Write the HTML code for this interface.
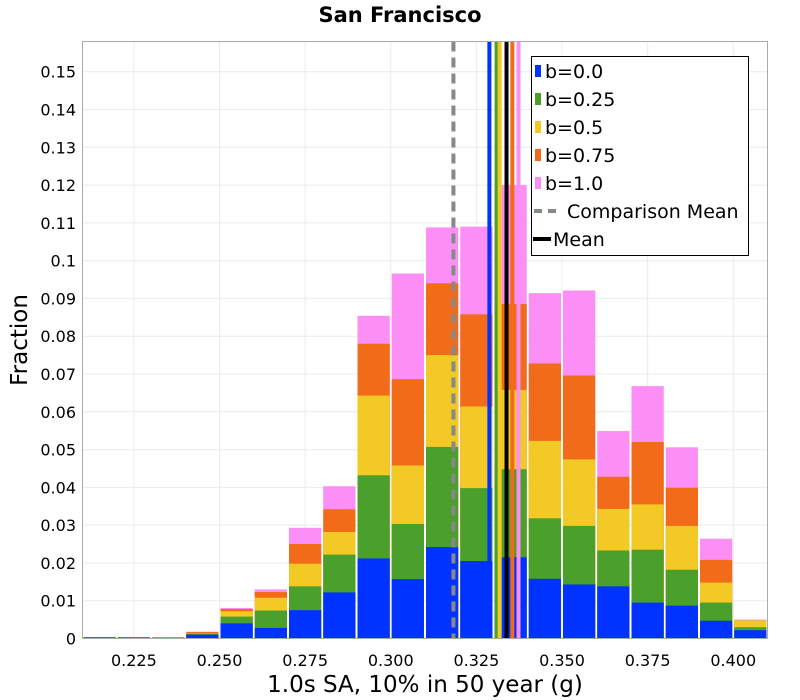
<!DOCTYPE html>
<html><head><meta charset="utf-8"><style>
body{margin:0;background:#fff;}
svg{display:block;font-family:"DejaVu Sans","Liberation Sans",sans-serif;}
</style></head><body>
<svg id="chart" width="800" height="700">
<text x="400" y="22" text-anchor="middle" font-size="21" font-weight="bold">San Francisco</text>
<g id="grid"></g>
<g id="bars"></g>
<g id="lines"></g>
<rect x="82.5" y="41.5" width="685" height="597" fill="none" stroke="#aaa"/>
<g id="yticks"></g>
<g id="xticks"></g>
<text x="425" y="692" text-anchor="middle" font-size="23">1.0s SA, 10% in 50 year (g)</text>
<text transform="translate(27,340) rotate(-90)" text-anchor="middle" font-size="23">Fraction</text>
<g id="legend">
<rect x="531.5" y="56.5" width="217" height="199" fill="#fff" stroke="#000"/>
</g>
</svg>
<script>
const binStarts=[0.21,0.22,0.23,0.24,0.25,0.26,0.27,0.28,0.29,0.30,0.31,0.32,0.33,0.34,0.35,0.36,0.37,0.38,0.39,0.40];
const seriesNames=["b=0.0","b=0.25","b=0.5","b=0.75","b=1.0"];
const seriesColors=["#0033ff","#4aa02a","#f2c925","#f26b18","#fb8ff5"];
// cumulative stacked tops per series
const cumB00=[0.0003,0.0001,0.0001,0.0010,0.0040,0.0028,0.0075,0.0122,0.0212,0.0157,0.0242,0.0205,0.0215,0.0158,0.0143,0.0138,0.0095,0.0087,0.0047,0.0022];
const cumB025=[0.0003,0.0004,0.0002,0.0012,0.0058,0.0074,0.0138,0.0222,0.0432,0.0303,0.0507,0.0398,0.0448,0.0318,0.0298,0.0233,0.0235,0.0182,0.0095,0.0030];
const cumB05=[0.0003,0.0004,0.0003,0.0013,0.0072,0.0108,0.0198,0.0282,0.0643,0.0458,0.0750,0.0614,0.0658,0.0523,0.0474,0.0343,0.0355,0.0298,0.0148,0.0048];
const cumB075=[0.0003,0.0004,0.0004,0.0017,0.0078,0.0123,0.0250,0.0342,0.0780,0.0686,0.0940,0.0858,0.0885,0.0728,0.0696,0.0428,0.0520,0.0399,0.0208,0.0048];
const cumB10=[0.0003,0.0004,0.0004,0.0018,0.0081,0.0130,0.0293,0.0403,0.0854,0.0966,0.1088,0.1090,0.1200,0.0914,0.0921,0.0549,0.0668,0.0506,0.0264,0.0050];
const meanValues=[0.3288,0.3309,0.3318,0.3355,0.3373];
const overallMean=0.3338;
const comparisonMean=0.3183;
const xTicks=[0.225,0.25,0.275,0.3,0.325,0.35,0.375,0.4];
const xTickLabels=["0.225","0.250","0.275","0.300","0.325","0.350","0.375","0.400"];
const yTicks=[0,0.01,0.02,0.03,0.04,0.05,0.06,0.07,0.08,0.09,0.1,0.11,0.12,0.13,0.14,0.15];
const yTickLabels=["0","0.01","0.02","0.03","0.04","0.05","0.06","0.07","0.08","0.09","0.1","0.11","0.12","0.13","0.14","0.15"];
const binWidth=0.01;

const X0=82.5,X1=767.5,Y0=638.5,Y1=41.5,xmin=0.21,xmax=0.41,ymax=0.158;
const sx=v=>X0+(v-xmin)/(xmax-xmin)*(X1-X0);
const sy=v=>Y0-v/ymax*(Y0-Y1);
const NS="http://www.w3.org/2000/svg";
function mk(tag,attrs,parent){const e=document.createElementNS(NS,tag);for(const k in attrs)e.setAttribute(k,attrs[k]);parent.appendChild(e);return e;}
const grid=document.getElementById('grid'),bars=document.getElementById('bars'),lines=document.getElementById('lines');
const yt=document.getElementById('yticks'),xt=document.getElementById('xticks'),lg=document.getElementById('legend');
yTicks.forEach((v,i)=>{
 const l=mk('line',{x1:X0,x2:X1,y1:sy(v),y2:sy(v),stroke:'#ececec'},grid);
 
 
 const t=mk('text',{x:76,y:sy(v)+6,'text-anchor':'end','font-size':16},yt);
 t.textContent=yTickLabels[i];
 
 
});
xTicks.forEach((v,i)=>{
 const l=mk('line',{x1:sx(v),x2:sx(v),y1:Y1,y2:Y0,stroke:'#ececec'},grid);
 
 
 const t=mk('text',{x:sx(v),y:666,'text-anchor':'middle','font-size':16},xt);
 t.textContent=xTickLabels[i];
 
 
});
const cums=[cumB00,cumB025,cumB05,cumB075,cumB10];
for(let s=cums.length-1;s>=0;s--){
 binStarts.forEach((b,i)=>{
  const v=cums[s][i];
  const r=mk('rect',{x:sx(b)+1,y:sy(v),width:sx(b+binWidth)-sx(b)-2,height:Math.max(0,Y0-sy(v)),fill:seriesColors[s]},bars);
  
  
 });
}
const cm=mk('line',{x1:sx(comparisonMean),x2:sx(comparisonMean),y1:Y1,y2:Y0,stroke:'#888','stroke-width':4,'stroke-dasharray':'10,6'},lines);


meanValues.forEach((m,i)=>{
 const l=mk('line',{x1:sx(m),x2:sx(m),y1:Y1,y2:Y0,stroke:seriesColors[i],'stroke-width':4},lines);
 
 
});
const om=mk('line',{x1:sx(overallMean),x2:sx(overallMean),y1:Y1,y2:Y0,stroke:'#000','stroke-width':4},lines);


seriesNames.forEach((n,i)=>{
 const y=71+i*28;
 const r=mk('rect',{x:535,y:y-6,width:6,height:12,fill:seriesColors[i]},lg);
 
 
 const t=mk('text',{x:545,y:y+7,'font-size':19},lg);
 t.textContent=n;
 
 
});
const d=mk('line',{x1:534,x2:562,y1:211,y2:211,stroke:'#888','stroke-width':4,'stroke-dasharray':'8,6'},lg);


const t1=mk('text',{x:567,y:218,'font-size':19},lg);
t1.textContent='Comparison Mean';


const d2=mk('line',{x1:533,x2:551,y1:239,y2:239,stroke:'#000','stroke-width':4},lg);


const t2=mk('text',{x:553,y:246,'font-size':19},lg);
t2.textContent='Mean';


</script>
</body></html>
